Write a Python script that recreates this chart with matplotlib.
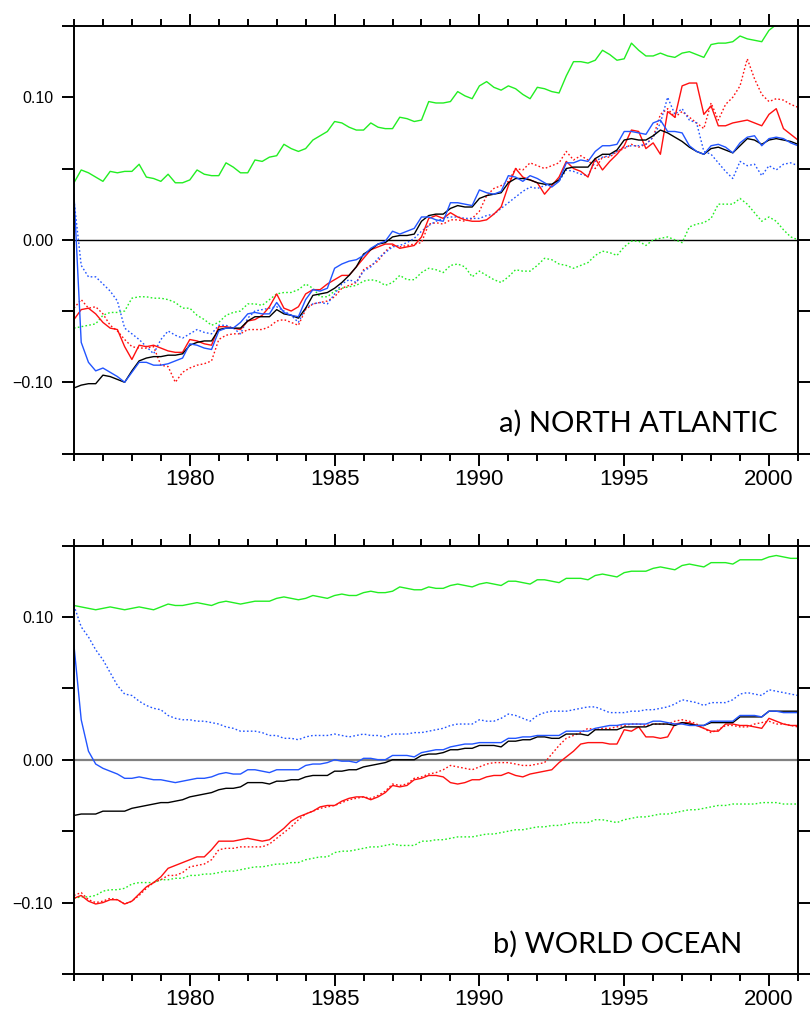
import numpy as np
import matplotlib
matplotlib.use("Agg")
import matplotlib.pyplot as plt
from matplotlib.ticker import MultipleLocator, FixedLocator, FixedFormatter

# quarterly samples, 1976.00 .. 2001.00, values in units of 0.001
start_year = 1976.0
step = 0.25

# ---- a) NORTH ATLANTIC ----
na_green_solid = [
    40, 49, 47, 44, 41, 48, 47, 48, 48, 53, 44, 43, 41, 46, 40, 40,
    42, 49, 46, 45, 45, 54, 51, 47, 47, 56, 55, 58, 59, 67, 64, 62,
    64, 70, 73, 76, 83, 82, 79, 77, 77, 82, 79, 78, 78, 86, 85, 83,
    84, 97, 96, 96, 97, 104, 101, 99, 108, 111, 107, 105, 108, 106, 102, 99,
    107, 106, 104, 103, 115, 125, 125, 124, 126, 133, 130, 126, 127, 138, 133, 129,
    129, 131, 129, 128, 131, 132, 130, 128, 137, 138, 138, 139, 143, 141, 140, 139,
    147, 151, 152, 153, 153]
na_green_dot = [
    -62, -61, -60, -59, -53, -51, -51, -50, -41, -40, -40, -41, -41, -42, -44, -48,
    -48, -53, -56, -60, -58, -53, -51, -50, -45, -45, -46, -42, -38, -37, -37, -35,
    -31, -34, -40, -40, -36, -34, -33, -32, -29, -28, -29, -32, -30, -25, -28, -28,
    -23, -20, -21, -23, -18, -17, -19, -26, -22, -25, -28, -30, -26, -21, -22, -22,
    -18, -13, -14, -17, -18, -20, -18, -16, -11, -8, -9, -11, -5, -1, -1, -4,
    0, 1, 2, 0, -2, 9, 11, 12, 15, 25, 25, 25, 29, 25, 19, 13,
    16, 13, 7, 2, 0]
na_black = [
    -104, -102, -101, -101, -95, -96, -98, -100, -92, -85, -83, -82, -82, -81, -81, -80,
    -74, -72, -71, -71, -63, -62, -62, -62, -57, -54, -54, -54, -49, -52, -53, -55,
    -48, -39, -38, -37, -34, -30, -25, -19, -10, -7, -3, -2, 2, 3, 3, 4,
    13, 17, 18, 18, 22, 24, 23, 23, 29, 31, 32, 33, 40, 43, 43, 42,
    40, 39, 39, 42, 50, 51, 51, 51, 57, 60, 60, 63, 70, 71, 70, 70,
    73, 77, 75, 72, 69, 65, 62, 60, 64, 65, 63, 61, 66, 71, 70, 67,
    70, 71, 70, 69, 67]
na_blue_solid = [
    32, -72, -86, -92, -90, -93, -96, -100, -93, -86, -86, -88, -88, -87, -85, -83,
    -73, -74, -76, -77, -64, -62, -62, -58, -52, -51, -52, -52, -44, -51, -53, -54,
    -42, -35, -36, -34, -20, -17, -15, -14, -11, -6, -3, -1, 6, 4, 6, 8,
    16, 16, 14, 13, 26, 26, 25, 24, 35, 33, 32, 34, 45, 44, 41, 45,
    43, 40, 37, 41, 54, 54, 56, 55, 62, 66, 66, 67, 76, 76, 75, 74,
    82, 84, 76, 76, 75, 66, 62, 60, 66, 67, 65, 61, 68, 72, 73, 66,
    71, 72, 71, 68, 66]
na_blue_dot = [
    28, -18, -26, -26, -31, -36, -43, -62, -66, -70, -75, -80, -70, -64, -67, -69,
    -66, -63, -65, -66, -60, -60, -62, -66, -55, -50, -49, -48, -47, -50, -53, -58,
    -48, -45, -44, -45, -38, -31, -28, -30, -22, -19, -13, -9, -5, -4, -2, 1,
    6, 10, 13, 15, 16, 16, 15, 15, 15, 17, 18, 22, 26, 30, 34, 37,
    36, 38, 39, 41, 49, 48, 46, 45, 55, 58, 59, 62, 65, 66, 66, 67,
    72, 82, 100, 88, 92, 84, 82, 62, 60, 54, 48, 43, 55, 52, 53, 45,
    52, 49, 53, 54, 52]
na_red_solid = [
    -56, -49, -48, -52, -58, -62, -63, -75, -84, -74, -75, -74, -76, -78, -79, -79,
    -70, -71, -73, -74, -61, -61, -62, -63, -57, -56, -53, -47, -38, -48, -50, -47,
    -38, -35, -35, -31, -28, -25, -25, -19, -13, -7, -5, -3, -3, -6, -5, -4,
    2, 15, 17, 15, 19, 16, 14, 13, 13, 14, 18, 23, 38, 50, 44, 42,
    40, 32, 38, 44, 55, 50, 48, 44, 57, 49, 55, 60, 66, 77, 76, 64,
    68, 60, 90, 86, 108, 110, 110, 88, 94, 80, 80, 82, 83, 84, 82, 80,
    88, 92, 78, 74, 70]
na_red_dot = [
    -48, -42, -48, -47, -52, -60, -64, -70, -75, -76, -76, -75, -88, -89, -100, -93,
    -90, -88, -87, -85, -70, -67, -66, -66, -63, -63, -63, -61, -57, -56, -58, -60,
    -49, -45, -44, -43, -40, -34, -32, -30, -21, -18, -15, -8, -4, -5, -4, -3,
    -2, 11, 12, 11, 14, 14, 13, 15, 20, 31, 36, 38, 41, 50, 49, 54,
    52, 50, 52, 54, 62, 56, 59, 56, 50, 58, 58, 62, 64, 67, 65, 67,
    72, 88, 92, 86, 90, 86, 82, 78, 96, 84, 95, 100, 108, 127, 113, 102,
    97, 99, 98, 95, 93]

# ---- b) WORLD OCEAN ----
wo_green_solid = [
    108, 107, 106, 105, 106, 107, 106, 105, 106, 107, 106, 105, 107, 109, 108, 108,
    109, 110, 109, 108, 110, 111, 110, 109, 110, 111, 111, 111, 113, 114, 113, 112,
    113, 115, 114, 113, 115, 116, 115, 115, 117, 118, 117, 117, 118, 121, 120, 119,
    119, 121, 120, 120, 122, 123, 122, 121, 123, 124, 123, 122, 125, 125, 124, 123,
    126, 126, 125, 124, 127, 127, 127, 126, 129, 130, 129, 128, 131, 132, 132, 132,
    134, 135, 134, 133, 136, 137, 136, 135, 138, 138, 138, 137, 140, 140, 140, 140,
    142, 143, 142, 141, 141]
wo_green_dot = [
    -97, -96, -96, -95, -92, -91, -91, -90, -87, -86, -86, -86, -84, -84, -83, -83,
    -81, -81, -80, -80, -79, -78, -78, -77, -76, -75, -75, -74, -73, -73, -72, -72,
    -70, -69, -68, -68, -65, -64, -64, -63, -62, -61, -61, -60, -59, -60, -60, -60,
    -57, -57, -56, -56, -55, -54, -54, -54, -53, -52, -52, -51, -50, -49, -49, -48,
    -47, -47, -46, -46, -45, -44, -44, -44, -42, -42, -43, -44, -42, -41, -40, -40,
    -39, -38, -38, -37, -36, -35, -35, -34, -33, -32, -32, -31, -31, -31, -31, -30,
    -30, -30, -31, -31, -31]
wo_black = [
    -39, -38, -38, -38, -36, -36, -36, -36, -34, -33, -32, -31, -30, -30, -29, -28,
    -26, -25, -24, -23, -21, -20, -20, -19, -16, -16, -16, -17, -15, -15, -14, -14,
    -12, -11, -11, -11, -8, -8, -7, -7, -5, -4, -3, -2, 0, 0, 0, 0,
    3, 4, 4, 5, 7, 7, 8, 8, 10, 10, 10, 9, 13, 13, 14, 14,
    16, 16, 15, 15, 18, 18, 18, 17, 21, 21, 21, 21, 23, 23, 23, 23,
    25, 25, 25, 24, 26, 25, 24, 24, 26, 26, 26, 26, 30, 30, 30, 30,
    34, 34, 34, 34, 34]
wo_blue_solid = [
    80, 28, 6, -3, -6, -8, -10, -13, -13, -12, -13, -14, -14, -15, -16, -15,
    -14, -13, -13, -12, -10, -9, -10, -10, -7, -7, -8, -9, -7, -7, -7, -7,
    -4, -3, -3, -2, 0, -1, -1, -2, 1, 1, 0, 0, 3, 3, 3, 2,
    5, 6, 7, 7, 9, 10, 11, 11, 12, 12, 12, 12, 15, 15, 16, 16,
    17, 17, 17, 17, 20, 20, 20, 20, 22, 23, 24, 24, 25, 25, 25, 25,
    27, 27, 26, 25, 25, 24, 24, 24, 27, 27, 27, 27, 31, 31, 31, 30,
    34, 34, 33, 33, 33]
wo_blue_dot = [
    108, 93, 86, 77, 70, 61, 52, 46, 45, 41, 38, 36, 35, 31, 29, 28,
    28, 27, 27, 26, 25, 23, 22, 20, 20, 20, 19, 17, 17, 15, 15, 14,
    16, 17, 17, 17, 18, 17, 16, 17, 18, 17, 17, 16, 18, 18, 18, 19,
    19, 20, 21, 22, 24, 25, 25, 25, 28, 27, 27, 29, 32, 31, 29, 27,
    31, 33, 34, 34, 34, 35, 36, 37, 37, 35, 33, 33, 33, 34, 34, 35,
    35, 36, 37, 39, 42, 41, 40, 38, 40, 40, 40, 42, 46, 47, 46, 45,
    49, 48, 47, 46, 45]
wo_red_solid = [
    -97, -95, -99, -101, -100, -98, -98, -101, -99, -94, -89, -86, -82, -76, -74, -72,
    -70, -68, -68, -63, -57, -57, -57, -56, -55, -56, -57, -56, -52, -48, -43, -40,
    -38, -36, -33, -32, -32, -29, -27, -26, -26, -28, -26, -23, -18, -19, -18, -14,
    -13, -11, -11, -12, -16, -17, -16, -14, -14, -12, -11, -11, -9, -11, -12, -10,
    -9, -8, -7, -2, 2, 6, 11, 12, 12, 12, 11, 11, 21, 20, 23, 16,
    16, 15, 16, 25, 26, 26, 24, 22, 20, 20, 25, 25, 24, 24, 23, 22,
    29, 27, 25, 24, 24]
wo_red_dot = [
    -95, -93, -98, -100, -99, -97, -98, -101, -99, -95, -90, -86, -84, -81, -81, -79,
    -75, -74, -73, -70, -63, -62, -62, -61, -61, -61, -61, -59, -55, -51, -47, -42,
    -38, -36, -34, -33, -32, -30, -28, -27, -26, -27, -25, -22, -17, -18, -17, -13,
    -12, -10, -9, -7, -4, -5, -6, -7, -5, -3, -2, -2, -2, -3, -4, -4,
    -3, -2, 4, 10, 15, 17, 19, 22, 21, 22, 22, 23, 24, 25, 25, 24,
    25, 25, 25, 27, 28, 27, 25, 22, 19, 21, 24, 24, 23, 23, 25, 26,
    27, 25, 25, 24, 23]

panel_titles = ["a) NORTH ATLANTIC", "b) WORLD OCEAN"]
x_labels = ["1980", "1985", "1990", "1995", "2000"]
y_label_values = [-0.15, -0.10, -0.05, 0.00, 0.05, 0.10, 0.15]
y_label_texts = ["", "\u22120.10", "", "0.00", "", "0.10", ""]

GREEN = "#22ee22"
BLUE = "#2255ff"
RED = "#ff1010"
DOT = (0, (1.2, 1.6))


def draw_panel(ax, series, title, title_x, zero_color, zero_lw):
    years = start_year + step * np.arange(len(series[0][0]))
    ax.axhline(0.0, color=zero_color, lw=zero_lw, zorder=1)
    for values, color, ls in series:
        ax.plot(years, np.array(values) / 1000.0, color=color, ls=ls, lw=1.0, zorder=2)

    ax.set_xlim(1976, 2001)
    ax.set_ylim(-0.15, 0.15)
    ax.xaxis.set_major_locator(FixedLocator([1980, 1985, 1990, 1995, 2000]))
    ax.xaxis.set_major_formatter(FixedFormatter(x_labels))
    ax.xaxis.set_minor_locator(MultipleLocator(1))
    ax.yaxis.set_major_locator(FixedLocator(y_label_values))
    ax.yaxis.set_major_formatter(FixedFormatter(y_label_texts))

    ax.tick_params(axis="x", which="major", direction="out", length=8.6, width=1.4,
                   top=True, labelsize=16, pad=2.5)
    ax.tick_params(axis="x", which="minor", direction="out", length=5, width=1.4, top=True)
    ax.tick_params(axis="y", which="major", direction="out", length=8.6, width=1.4,
                   right=True, labelsize=11.5, pad=6.5)
    for sp in ax.spines.values():
        sp.set_linewidth(1.4)

    ax.text(title_x, 0.05, title, transform=ax.transAxes, ha="right", va="baseline",
            fontsize=21, family=["Lato", "DejaVu Sans"], color="black")


plt.rcParams["font.family"] = ["Liberation Sans", "DejaVu Sans"]
fig = plt.figure(figsize=(8.12, 10.13), dpi=100)
ax_a = fig.add_axes([0.0911, 0.5523, 0.8916, 0.4220])
ax_b = fig.add_axes([0.0911, 0.0385, 0.8916, 0.4230])

draw_panel(ax_a, [
    (na_green_solid, GREEN, "-"),
    (na_green_dot, GREEN, DOT),
    (na_red_dot, RED, DOT),
    (na_blue_dot, BLUE, DOT),
    (na_red_solid, RED, "-"),
    (na_black, "black", "-"),
    (na_blue_solid, BLUE, "-"),
], panel_titles[0], 0.972, "black", 1.0)

draw_panel(ax_b, [
    (wo_green_solid, GREEN, "-"),
    (wo_green_dot, GREEN, DOT),
    (wo_red_dot, RED, DOT),
    (wo_blue_dot, BLUE, DOT),
    (wo_red_solid, RED, "-"),
    (wo_black, "black", "-"),
    (wo_blue_solid, BLUE, "-"),
], panel_titles[1], 0.9227, "#808080", 1.6)

fig.savefig("out.png", dpi=100)
